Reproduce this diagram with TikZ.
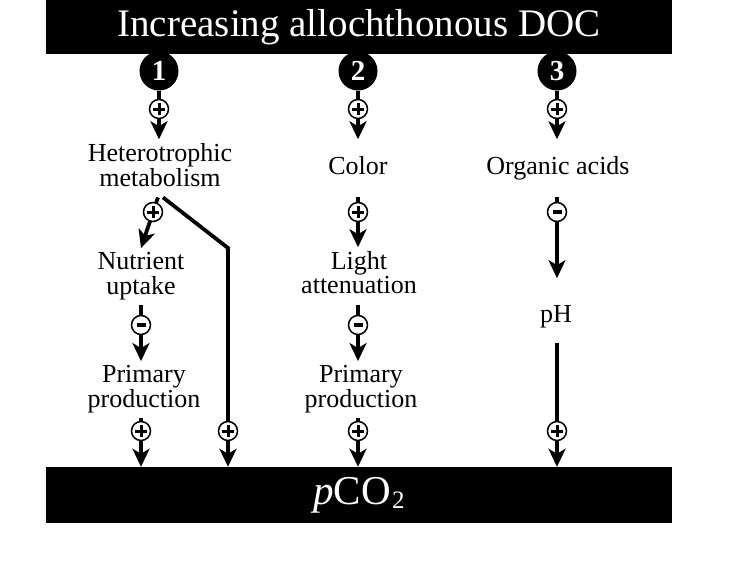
\documentclass[tikz,border=0pt]{standalone}
\usepackage{fontspec}
\setmainfont{Liberation Serif}
\usetikzlibrary{arrows.meta}
\newcommand{\lines}[1]{\begin{tabular}[t]{@{}c@{}}#1\end{tabular}}
\begin{document}
\begin{tikzpicture}[x=1pt,y=-1pt,
  lbl/.style={font=\fontsize{26}{24.5}\selectfont, inner sep=3.5pt, anchor=base},
  bar/.style={fill=black, text=white, minimum width=626pt, inner sep=0pt, font=\fontsize{39}{40}\selectfont},
  num/.style={circle, fill=black, text=white, minimum size=39pt, inner sep=0pt, font=\fontsize{29}{29}\selectfont\bfseries},
  sign/.style={circle, draw=black, fill=white, line width=1.5pt, minimum size=19pt, inner sep=0pt},
  plussign/.style={sign, path picture={\draw[line width=3pt]
      ([xshift=-6pt]path picture bounding box.center) -- ([xshift=6pt]path picture bounding box.center)
      ([yshift=-6pt]path picture bounding box.center) -- ([yshift=6pt]path picture bounding box.center);}},
  minussign/.style={sign, path picture={\draw[line width=3.2pt]
      ([xshift=-4.5pt]path picture bounding box.center) -- ([xshift=4.5pt]path picture bounding box.center);}},
  arr/.style={line width=3.8pt, -{Stealth[length=18pt,width=17pt,inset=5pt]}},
]
\useasboundingbox (0,0) rectangle (739,563);

% bars
\node[bar, minimum height=54pt] (top) at (359,27) {\raisebox{-3pt}{Increasing allochthonous DOC}};
\node[bar, minimum height=56pt, font=\fontsize{41}{42}\selectfont] (bot) at (359,495)
  {\raisebox{-5pt}{\textit{p}CO\kern1.5pt\raisebox{-4pt}{\fontsize{25}{25}\selectfont 2}}};

% numbered circles
\node[num] (c1) at (159,71) {1};
\node[num] (c2) at (358,71) {2};
\node[num] (c3) at (557,71) {3};

% labels
\node[lbl] (het) at (160,161) {\lines{Heterotrophic\\metabolism}};
\node[lbl] (col) at (358,174) {\lines{Color}};
\node[lbl] (org) at (558,174) {\lines{Organic acids}};
\node[lbl] (nut) at (141,269) {\lines{Nutrient\\uptake}};
\node[lbl] (lig) at (359,269) {\lines{Light\\attenuation}};
\node[lbl] (ph)  at (556,322) {\lines{pH}};
\node[lbl] (pp1) at (144,382) {\lines{Primary\\production}};
\node[lbl] (pp2) at (361,382) {\lines{Primary\\production}};

\coordinate (bend) at (228,248);

% column 1
\draw[arr] (c1) -- (c1 |- het.north);
\draw[arr] ([xshift=-2pt]het.south) -- (nut.north);
\draw[arr, line join=miter] ([xshift=3pt]het.south) -- (bend) -- (bend |- bot.north);
\draw[arr] (nut.south) -- (nut.south |- pp1.north);
\draw[arr] (nut.south |- pp1.south) -- (nut.south |- bot.north);

% column 2
\draw[arr] (c2) -- (c2 |- het.north);
\draw[arr] (c2 |- het.south) -- (c2 |- lig.north);
\draw[arr] (c2 |- lig.south) -- (c2 |- pp2.north);
\draw[arr] (c2 |- pp2.south) -- (c2 |- bot.north);

% column 3
\draw[arr] (c3) -- (c3 |- het.north);
\draw[arr] (c3 |- het.south) -- ([yshift=23pt]c3 |- ph.north);
\draw[arr] ([yshift=-10pt]c3 |- ph.south) -- (c3 |- bot.north);

% signs
\node[plussign]  (s11) at (159,109) {};
\node[plussign]  (s12) at (153,212) {};
\node[plussign]  (s13) at (228,431) {};
\node[minussign] (s14) at (141,325) {};
\node[plussign]  (s15) at (141,431) {};

\node[plussign]  (s21) at (358,109) {};
\node[plussign]  (s22) at (358,212) {};
\node[minussign] (s23) at (358,325) {};
\node[plussign]  (s24) at (358,431) {};

\node[plussign]  (s31) at (557,109) {};
\node[minussign] (s32) at (557,212) {};
\node[plussign]  (s33) at (557,431) {};
\end{tikzpicture}
\end{document}
